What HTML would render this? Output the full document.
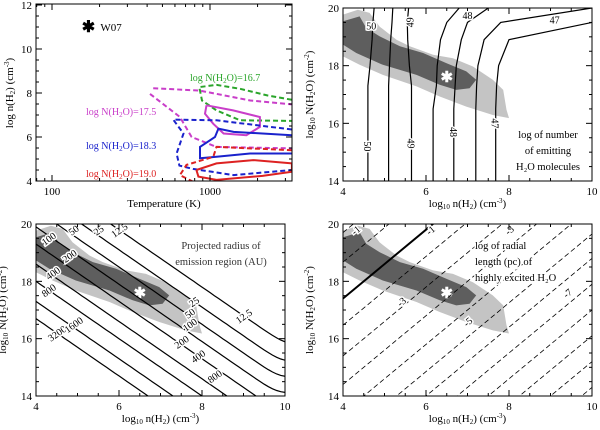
<!DOCTYPE html>
<html><head><meta charset="utf-8"><style>
html,body{margin:0;background:#fff;width:600px;height:430px;overflow:hidden}
svg{display:block;font-family:"Liberation Serif",serif}
</style></head><body>
<svg id="fig" width="600" height="430" viewBox="0 0 600 430" xmlns="http://www.w3.org/2000/svg"></svg>
<script>
// ---------- DATA ----------
// Panel 1 (T in K, log n)
const greenDashed=[[3300,7.69],[2300,7.89],[1550,8.19],[1100,8.37],[855,8.27],[890,7.66],[1100,7.21],[1550,6.76],[3300,6.73]];
const magentaDashedA=[[417,7.96],[645,6.91],[765,6.0],[1100,5.55],[3300,5.48]];
const magentaDashedB=[[437,8.22],[860,8.11],[1800,7.66],[3300,7.48]];
const magentaSolid=[[950,7.44],[1400,7.21],[2070,6.91],[2070,6.46],[1700,6.08],[1220,6.16],[1050,6.6],[930,7.06],[950,7.44]];
const blueDashed=[[3300,6.34],[1100,6.76],[585,6.79],[680,6.16],[615,5.25],[640,4.7],[780,4.55],[1410,4.27],[3300,4.5]];
const blueSolid=[[3300,6.08],[1410,6.23],[1130,6.38],[1075,6.0],[865,5.55],[865,5.03],[1100,5.1],[1790,5.25],[3300,5.25]];
const redSolid=[[820,4.5],[1100,4.8],[1880,4.95],[3300,4.8],[3300,4.42],[2150,4.23],[1100,4.05],[845,4.2],[820,4.5]];
const redDashed=[[3300,5.4],[1100,5.55],[1050,5.1],[710,4.73],[645,4.27],[780,3.97]];
const w07=[170,11];
// Shaded likelihood regions (log n, log N)
const lightRegion=[[4,19.77],[4.36,19.94],[4.64,19.83],[4.88,19.36],[5.29,18.9],[5.61,18.67],[6.17,18.38],[6.65,18.26],[7.13,17.97],[7.61,17.51],[7.86,17.16],[7.94,16.47],[8.0,16.18],[7.61,16.29],[6.97,16.58],[6.33,16.93],[5.77,17.28],[4.96,17.68],[4.4,18.03],[4,18.32]];
const darkRegion=[[4,19.54],[4.4,19.71],[4.56,19.31],[4.88,19.02],[5.37,18.67],[5.93,18.44],[6.49,18.09],[6.97,17.8],[7.21,17.51],[7.05,17.22],[6.73,17.16],[6.33,17.34],[5.77,17.68],[4.96,18.03],[4.32,18.44],[4,18.73]];
const bestFit=[6.5,17.6];
// Panel 2 contours: x position at given N levels
const p2Levels=[14,16.5,17.3,18,18.9,19.5,20];
const p2Contours=[
 [4.6,4.6,4.6,4.65,4.7,4.72,4.75],
 [5.1,5.1,5.1,5.12,5.15,5.18,5.2],
 [5.65,5.65,5.65,5.6,5.56,5.55,5.58],
 [6.17,6.17,6.25,6.27,6.35,6.5,6.8],
 [6.67,6.67,6.7,6.73,6.85,7.0,7.5],
 [7.2,7.2,7.22,7.25,7.4,7.8,10],
 [7.68,7.68,7.7,7.75,8.0,10,10.5]];
const p2Labels=[["50",4.68,19.4],["50",4.6,15.2],["49",5.6,19.5],["49",5.65,15.3],["48",7.0,19.75],["48",6.67,15.7],["47",9.1,19.6],["47",7.68,16.0]];
// Panel 3 contours: N = offset - n, saturating at floor
const p3Values=["3200","1600","800","400","200","100","50","25","12.5"];
const p3Offsets=[20.7,21.3,22.0,22.6,23.3,23.9,24.5,25.1,25.8];
const p3Floors=[10,10,10,12,13.4,14.1,14.65,15.2,15.8];
const p3Labels=[["3200",4.5,16.2],["1600",4.9,16.5],["800",4.3,17.7],["400",4.4,18.3],["200",4.8,18.9],["100",4.3,19.5],["50",4.9,19.8],["25",5.5,19.8],["12.5",6.0,19.8],["800",8.3,14.7],["400",7.9,15.4],["200",7.5,15.9],["100",7.7,16.5],["50",7.7,16.9],["25",7.8,17.3],["12.5",9.0,16.8]];
// Panel 4: radial length lines N = b + slope*(n-4)
const p4Intercepts=[19.7,18.67,17.4,16.47,15.4,14.4,13.4,12.45,11.6,10.7,9.8,8.9,8.0,7.1,6.2];
const p4Labels=[["-1",4.3,19.8],["-1",6.1,19.8],["-3",8.0,19.8],["-3",5.4,17.3],["-5",7.0,16.6],["-7",9.4,17.6]];

// ---------- DRAW ----------
const NS="http://www.w3.org/2000/svg";
const svg=document.getElementById('fig');
function el(t,a,p){const e=document.createElementNS(NS,t);for(const k in a)e.setAttribute(k,a[k]);(p||svg).appendChild(e);return e;}
function txt(s,x,y,a,p){const e=el('text',Object.assign({x:x,y:y,'font-size':11,fill:'#000'},a||{}),p);e.textContent=s;return e;}
function path(pts,fx,fy){return pts.map((p,i)=>(i?'L':'M')+fx(p[0]).toFixed(1)+','+fy(p[1]).toFixed(1)).join('');}

function frame(g,x0,x1,y0,y1){el('rect',{x:x0,y:y0,width:x1-x0,height:y1-y0,fill:'none',stroke:'#000','stroke-width':1},g);}

// Panel 1
(function(){
 const g=el('g',{});
 const X0=36,X1=292,Y0=4,Y1=181;
 const fx=t=>52+(Math.log10(t)-2)*158, fy=v=>181-(v-4)*22;
 const clip=el('clipPath',{id:'c1'},g);el('rect',{x:X0,y:Y0,width:X1-X0,height:Y1-Y0},clip);
 const cg=el('g',{'clip-path':'url(#c1)'},g);
 const lines=[[greenDashed,'#2aa52a',1,'green-dashed-contour'],[magentaDashedA,'#c93ec9',1,'magenta-dashed-contour'],[magentaDashedB,'#c93ec9',1,'magenta-dashed-contour-upper'],[magentaSolid,'#c93ec9',0,'magenta-solid-contour'],[blueDashed,'#1a22cc',1,'blue-dashed-contour'],[blueSolid,'#1a22cc',0,'blue-solid-contour'],[redSolid,'#dd2222',0,'red-solid-contour'],[redDashed,'#dd2222',1,'red-dashed-contour']];
 lines.forEach(l=>{const e=el('path',{d:path(l[0],fx,fy),fill:'none',stroke:l[1],'stroke-width':2,'stroke-dasharray':l[2]?'5,3':'none'},cg);
  });
 frame(g,X0,X1,Y0,Y1);
 [4,6,8,10,12].forEach(v=>{el('line',{x1:X0,x2:X0+6,y1:fy(v),y2:fy(v),stroke:'#000'},g);el('line',{x1:X1,x2:X1-6,y1:fy(v),y2:fy(v),stroke:'#000'},g);txt(v,X0-4,fy(v)+4,{'text-anchor':'end'},g);});
 for(let v=4;v<=12;v+=0.5){el('line',{x1:X0,x2:X0+3,y1:fy(v),y2:fy(v),stroke:'#000'},g);el('line',{x1:X1,x2:X1-3,y1:fy(v),y2:fy(v),stroke:'#000'},g);}
 [100,1000].forEach(t=>{el('line',{x1:fx(t),x2:fx(t),y1:Y1,y2:Y1-6,stroke:'#000'},g);el('line',{x1:fx(t),x2:fx(t),y1:Y0,y2:Y0+6,stroke:'#000'},g);txt(t,fx(t),Y1+14,{'text-anchor':'middle'},g);});
 [80,90,200,300,400,500,600,700,800,900,2000,3000].forEach(t=>{el('line',{x1:fx(t),x2:fx(t),y1:Y1,y2:Y1-3,stroke:'#000'},g);el('line',{x1:fx(t),x2:fx(t),y1:Y0,y2:Y0+3,stroke:'#000'},g);});
 txt('Temperature (K)',164,207,{'text-anchor':'middle',},g);
 const yl=txt('',13,93,{'text-anchor':'middle',transform:'rotate(-90 13 93)',},g);
 yl.innerHTML='log n(H<tspan font-size="7" dy="2">2</tspan><tspan dy="-2">) (cm</tspan><tspan font-size="7" dy="-4">-3</tspan><tspan dy="4">)</tspan>';
 const s=el('text',{x:fx(w07[0]),y:fy(w07[1])+5,'font-size':16,'font-weight':'bold','text-anchor':'middle',},g);s.textContent='✱';
 txt('W07',fx(w07[0])+12,fy(w07[1])+4,{'font-size':11},g);
 const labs=[['16.7',190,81,'#2aa52a'],['17.5',86,115,'#c93ec9'],['18.3',86,149,'#1a22cc'],['19.0',86,177,'#dd2222']];
 labs.forEach(l=>{const t=txt('',l[1],l[2],{fill:l[3],'font-size':10},g);t.innerHTML='log N(H<tspan font-size="7" dy="2">2</tspan><tspan dy="-2">O)='+l[0]+'</tspan>';
  });
})();

function nPanel(name,X0,Y0,X1,Y1,id){
 const g=el('g',{});
 const fx=v=>X0+(v-4)*(X1-X0)/6, fy=v=>Y1-(v-14)*(Y1-Y0)/6;
 const clip=el('clipPath',{id:id},g);el('rect',{x:X0,y:Y0,width:X1-X0,height:Y1-Y0},clip);
 const cg=el('g',{'clip-path':'url(#'+id+')'},g);
 const l=el('path',{d:path(lightRegion,fx,fy)+'Z',fill:'#c4c4c4'},cg);
 const d=el('path',{d:path(darkRegion,fx,fy)+'Z',fill:'#5e5e5e'},cg);
 const st=el('text',{x:fx(bestFit[0]),y:fy(bestFit[1])+5,'font-size':15,'font-weight':'bold',fill:'#fff','text-anchor':'middle'},cg);st.textContent='✱';
 
 frame(g,X0,X1,Y0,Y1);
 for(let v=4;v<=10;v+=0.5){const M=v%2===0;el('line',{x1:fx(v),x2:fx(v),y1:Y1,y2:Y1-(M?6:3),stroke:'#000'},g);el('line',{x1:fx(v),x2:fx(v),y1:Y0,y2:Y0+(M?6:3),stroke:'#000'},g);if(M)txt(v,fx(v),Y1+14,{'text-anchor':'middle'},g);}
 for(let v=14;v<=20;v+=0.5){const M=v%2===0;el('line',{x1:X0,x2:X0+(M?6:3),y1:fy(v),y2:fy(v),stroke:'#000'},g);el('line',{x1:X1,x2:X1-(M?6:3),y1:fy(v),y2:fy(v),stroke:'#000'},g);if(M)txt(v,X0-4,fy(v)+4,{'text-anchor':'end'},g);}
 const xl=txt('',(X0+X1)/2,Y1+26,{'text-anchor':'middle',},g);
 xl.innerHTML='log<tspan font-size="7" dy="2">10</tspan><tspan dy="-2"> n(H</tspan><tspan font-size="7" dy="2">2</tspan><tspan dy="-2">) (cm</tspan><tspan font-size="7" dy="-4">-3</tspan><tspan dy="4">)</tspan>';
 const yx=X0-30,yy=(Y0+Y1)/2;
 const yl=txt('',yx,yy,{'text-anchor':'middle',transform:'rotate(-90 '+yx+' '+yy+')',},g);
 yl.innerHTML='log<tspan font-size="7" dy="2">10</tspan><tspan dy="-2"> N(H</tspan><tspan font-size="7" dy="2">2</tspan><tspan dy="-2">O) (cm</tspan><tspan font-size="7" dy="-4">-2</tspan><tspan dy="4">)</tspan>';
 return {g,cg,fx,fy};
}
function clab(p,s,x,y,rot){const t=txt(s,p.fx(x),p.fy(y)+4,{'text-anchor':'middle','font-size':10,stroke:'#fff','stroke-width':3,'paint-order':'stroke',transform:rot?'rotate('+rot+' '+p.fx(x)+' '+(p.fy(y))+')':''},p.cg);
 }

// Panel 2
(function(){
 const p=nPanel('panel-emitting-molecules',343,8,592,181,'c2');
 p2Contours.forEach(c=>{const pts=c.map((x,i)=>[x,p2Levels[i]]);const e=el('path',{d:path(pts,p.fx,p.fy),fill:'none',stroke:'#000','stroke-width':1.2},p.cg);
  });
 p2Labels.forEach(l=>clab(p,l[0],l[1],l[2],l[2]<19?90:(l[0]==='49'?-90:0)));
 [['log of number',548,138],['of emitting',548,154],['H₂O molecules',548,170]].forEach(l=>{const t=txt(l[0],l[1],l[2],{'text-anchor':'middle','font-size':10.5,stroke:'#fff','stroke-width':3,'paint-order':'stroke'},p.g);});
})();

// Panel 3
(function(){
 const p=nPanel('panel-projected-radius',36,224,285,396,'c3');
 p3Offsets.forEach((c,i)=>{const pts=[];for(let x=4;x<=10.001;x+=0.1){const a=c-x,f=p3Floors[i];pts.push([x,f+0.3*Math.log10(Math.pow(10,(a-f)/0.3)+1)]);}
  const e=el('path',{d:path(pts,p.fx,p.fy),fill:'none',stroke:'#000','stroke-width':1.2},p.cg);
  });
 p3Labels.forEach(l=>clab(p,l[0],l[1],l[2],-35));
 [['Projected radius of',221,249],['emission region (AU)',221,265]].forEach(l=>{const t=txt(l[0],l[1],l[2],{'text-anchor':'middle','font-size':10.5,fill:'#333',stroke:'#fff','stroke-width':3,'paint-order':'stroke'},p.g);});
})();

// Panel 4
(function(){
 const p=nPanel('panel-radial-length',343,224,592,396,'c4');
 p4Intercepts.forEach((b,i)=>{const solid=b===17.4;const pts=[[4,b],[12,b+1.2*8]];
  const e=el('path',{d:path(pts,p.fx,p.fy),fill:'none',stroke:'#000','stroke-width':solid?2:0.8,'stroke-dasharray':solid?'none':'5,3'},p.cg);
  });
 p4Labels.forEach(l=>clab(p,l[0],l[1],l[2],-40));
 [['log of radial',475,249],['length (pc) of',475,265],['highly excited H₂O',475,281]].forEach(l=>{const t=txt(l[0],l[1],l[2],{'font-size':10.5,stroke:'#fff','stroke-width':3,'paint-order':'stroke'},p.g);});
})();
</script>
</body></html>
